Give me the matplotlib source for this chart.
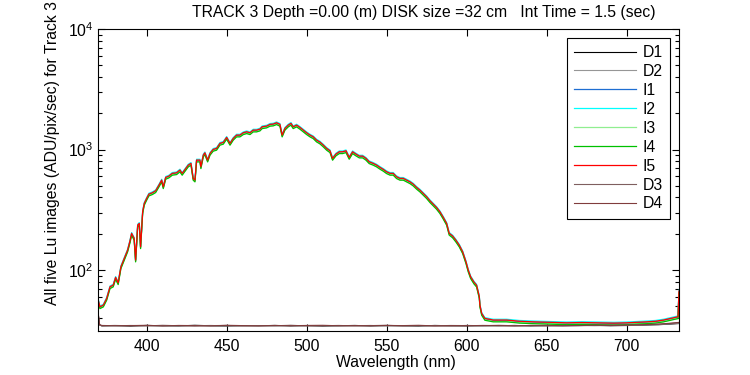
import numpy as np
import matplotlib
matplotlib.use('Agg')
import matplotlib.pyplot as plt
from matplotlib.ticker import FixedLocator, LogLocator, NullFormatter

plt.rcParams['font.family'] = ['Liberation Sans', 'DejaVu Sans']
plt.rcParams['mathtext.fontset'] = 'custom'
plt.rcParams['mathtext.rm'] = 'Liberation Sans'

# I5 (red) spectrum
wl = [369.8, 370.8, 372.9, 375.0, 377.1, 379.1, 380.6, 382.2, 383.9, 386.0,
      388.1, 389.6, 390.6, 392.2, 393.1, 394.4, 395.4, 396.2, 397.5, 398.5,
      400.0, 401.4, 403.5, 405.6, 407.7, 409.4, 410.4, 411.9, 413.9, 416.0,
      418.7, 420.8, 422.2, 426.0, 427.7, 429.1, 430.2, 431.2, 433.3, 433.9,
      435.4, 436.4, 438.1, 439.6, 441.6, 443.7, 445.8, 447.9, 450.0, 452.1,
      454.1, 456.2, 458.3, 460.4, 462.5, 464.6, 466.6, 468.7, 470.8, 472.2,
      475.0, 477.1, 479.1, 481.2, 483.3, 484.7, 486.4, 488.5, 490.2, 491.6,
      493.7, 495.8, 497.9, 500.0, 502.1, 504.1, 506.2, 508.3, 510.4, 512.5,
      514.6, 516.2, 518.3, 520.4, 522.5, 524.6, 526.6, 528.7, 530.8, 532.9,
      535.0, 537.1, 539.1, 541.6, 543.7, 545.8, 547.9, 550.0, 552.1, 554.1,
      556.2, 558.3, 560.4, 562.5, 564.6, 566.6, 568.7, 570.8, 572.9, 575.0,
      577.1, 579.1, 581.2, 583.3, 585.4, 587.5, 589.1, 591.2, 593.3, 595.4,
      597.5, 599.6, 601.0, 602.5, 604.6, 606.2, 607.9, 608.3, 609.4, 611.4,
      616.6, 625.0, 633.0, 641.6, 650.0, 662.5, 672.0, 683.3, 692.0, 700.0,
      706.0, 712.5, 718.0, 723.1, 729.4, 732.1, 732.7]
i5 = [56, 49.6, 51.2, 58.2, 72.7, 75.1, 87.0, 78.5, 106.5, 125.1,
      146.6, 175.1, 201.7, 183.3, 121.1, 236.3, 244.1, 156.1, 304.7, 357.7,
      393.6, 427.3, 438.0, 455.1, 507.5, 558.4, 491.3, 587.9, 602.6, 634.6,
      641.9, 676.0, 634.6, 743.6, 768.1, 576.8, 558.4, 818.2, 818.2, 720.0,
      900.3, 940.5, 818.2, 930.0, 1004, 1023, 1126, 1148, 1263, 1126,
      1238, 1319, 1319, 1379, 1405, 1379, 1451, 1451, 1479, 1546,
      1567, 1619, 1628, 1669, 1619, 1319, 1499, 1597, 1650, 1546,
      1597, 1528, 1451, 1379, 1319, 1277, 1199, 1154, 1090, 1023,
      977, 845, 918, 959, 959, 977, 861, 959, 918, 883,
      883, 845, 792, 768, 744, 712, 685, 654, 635, 635,
      595, 577, 577, 558, 540, 517, 486, 461, 433, 406,
      376, 353, 331, 305, 274, 244, 202, 192, 177, 161,
      142, 117, 100, 88, 79.4, 75, 60.4, 51.2, 43.7, 39.7,
      38.5, 38.5, 37.6, 37.2, 36.9, 36.5, 36.7, 36.5, 36.3, 36.5,
      36.8, 37.2, 37.6, 38.5, 40.2, 41.0, 67]

# relative level of each illuminated image against I5
i_names = ['I1', 'I2', 'I3', 'I4', 'I5']
i_scale = [0.99, 1.015, 0.975, 0.965, 1.0]

# dark images
dark_wl = [369.8, 370.6, 372, 380, 390, 400, 410, 420, 430, 440, 450, 460,
           470, 480, 490, 500, 510, 520, 530, 540, 550, 560, 570, 580, 590,
           600, 610, 620, 630, 640, 650, 660, 670, 680, 690, 700, 710, 720,
           727, 732.7]
d1 = [42, 35.0, 34.4, 34.6, 34.3, 34.7, 34.5, 34.4, 34.8, 34.5, 34.3, 34.6,
      34.5, 34.7, 34.4, 34.6, 34.3, 34.5, 34.7, 34.4, 34.6, 34.5, 34.3, 34.7,
      34.5, 34.4, 34.6, 34.5, 34.7, 34.4, 34.6, 34.5, 34.6, 34.8, 34.5, 34.7,
      34.9, 35.2, 35.6, 36.0]
d2 = [41, 34.8, 34.6, 34.4, 34.7, 34.5, 34.3, 34.6, 34.5, 34.7, 34.4, 34.5,
      34.6, 34.3, 34.7, 34.5, 34.6, 34.4, 34.5, 34.7, 34.3, 34.6, 34.5, 34.4,
      34.7, 34.6, 34.3, 34.6, 34.4, 34.7, 34.5, 34.6, 34.8, 34.5, 34.7, 34.6,
      35.0, 35.3, 35.8, 36.2]
d3 = [42.5, 35.2, 34.5, 34.7, 34.5, 34.4, 34.8, 34.5, 34.3, 34.6, 34.7, 34.4,
      34.6, 34.5, 34.8, 34.4, 34.5, 34.7, 34.4, 34.6, 34.8, 34.4, 34.6, 34.5,
      34.4, 34.7, 34.5, 34.8, 34.5, 34.6, 34.4, 34.7, 34.6, 34.7, 34.9, 34.8,
      35.1, 35.5, 36.0, 36.5]
d4 = [43, 35.1, 34.7, 34.5, 34.6, 34.8, 34.4, 34.7, 34.6, 34.4, 34.8, 34.6,
      34.4, 34.7, 34.5, 34.7, 34.8, 34.5, 34.6, 34.5, 34.7, 34.6, 34.8, 34.4,
      34.6, 34.5, 34.7, 34.6, 34.4, 34.7, 34.8, 34.5, 34.7, 34.9, 34.7, 34.9,
      35.2, 35.6, 36.2, 36.8]

colors = {'D1': '#000000', 'D2': '#969696', 'I1': '#1e6ed2', 'I2': '#00ffff',
          'I3': '#90ee90', 'I4': '#00c000', 'I5': '#ff0000',
          'D3': '#7f5f5f', 'D4': '#803c3c'}

title = 'TRACK 3 Depth =0.00 (m) DISK size =32 cm   Int Time = 1.5 (sec)'
fs = 11.3

fig = plt.figure(figsize=(7.5, 3.75), dpi=100)
ax = fig.add_axes([0.131, 0.1173, 0.7743, 0.8053])

i5 = np.array(i5)
ax.plot(dark_wl, d1, color=colors['D1'], lw=0.8, label='D1')
ax.plot(dark_wl, d2, color=colors['D2'], lw=0.8, label='D2')
for name, s in zip(i_names, i_scale):
    ax.plot(wl, i5 * s, color=colors[name], lw=0.9, label=name)
ax.plot(dark_wl, d3, color=colors['D3'], lw=0.8, label='D3')
ax.plot(dark_wl, d4, color=colors['D4'], lw=0.8, label='D4')

ax.set_yscale('log')
ax.set_xlim(369.75, 732.7)
ax.set_ylim(31.2, 10000)
ax.xaxis.set_major_locator(FixedLocator([400, 450, 500, 550, 600, 650, 700]))
ax.yaxis.set_major_locator(FixedLocator([100, 1000, 10000]))
ax.yaxis.set_minor_locator(LogLocator(base=10, subs=np.arange(2, 10)))
ax.yaxis.set_minor_formatter(NullFormatter())
ax.set_yticklabels([r'$\mathregular{10^{2}}$', r'$\mathregular{10^{3}}$',
                    r'$\mathregular{10^{4}}$'])
ax.tick_params(which='both', direction='in', top=True, right=True,
               labelsize=fs, width=0.8)
ax.tick_params(which='major', length=5)
ax.tick_params(which='minor', length=3)
ax.tick_params(axis='x', pad=6)
for sp in ax.spines.values():
    sp.set_linewidth(0.8)

fig.text(395.7 / 750, 1 - 363 / 375, 'Wavelength (nm)', ha='center',
         va='center', fontsize=fs)
fig.text(53 / 750, 1 - 305 / 375, 'All five Lu images (ADU/pix/sec) for Track 3',
         rotation=90, ha='center', va='bottom', fontsize=fs)
fig.text(192 / 750, 1 - 12 / 375, title, ha='left', va='center', fontsize=fs)

leg = ax.legend(loc='upper right', bbox_to_anchor=(670 / 750, 1 - 38 / 375),
                bbox_transform=fig.transFigure, borderaxespad=0, fontsize=fs,
                fancybox=False, framealpha=1, edgecolor='black',
                handlelength=3.9, handletextpad=0.45, labelspacing=0.25,
                borderpad=0.45)
leg.get_frame().set_linewidth(0.8)

fig.savefig('out.png', dpi=100)
